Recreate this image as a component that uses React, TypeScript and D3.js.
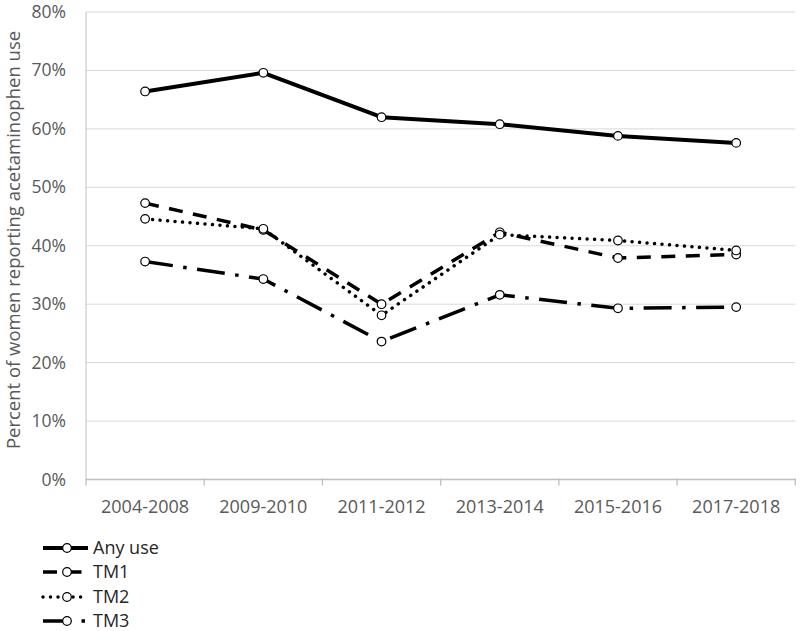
import React, { useEffect, useRef } from "react";
import * as d3 from "d3";

const categories = ["2004-2008", "2009-2010", "2011-2012", "2013-2014", "2015-2016", "2017-2018"];
const anyUse = [66.4, 69.6, 62.0, 60.8, 58.8, 57.6];
const tm1 = [47.3, 42.7, 30.0, 42.3, 37.9, 38.5];
const tm2 = [44.6, 42.9, 28.1, 41.9, 40.9, 39.2];
const tm3 = [37.3, 34.3, 23.6, 31.6, 29.3, 29.5];
const yTicks = [0, 10, 20, 30, 40, 50, 60, 70, 80];
const seriesNames = ["Any use", "TM1", "TM2", "TM3"];
const yTitle = "Percent of women reporting acetaminophen use";

const FONT = "'Open Sans', sans-serif";

export default function App() {
  const ref = useRef<SVGSVGElement>(null);

  useEffect(() => {
    const svg = d3.select(ref.current);
    svg.selectAll("*").remove();

    const x = d3.scaleBand<string>().domain(categories).range([86, 795.3]);
    const y = d3.scaleLinear().domain([0, 80]).range([479.5, 12]);

    const styles = [
      { data: anyUse, width: 4, dash: null as string | null, cap: "butt" },
      { data: tm1, width: 3.5, dash: "14 10.5", cap: "butt" },
      { data: tm2, width: 3.5, dash: "0.01 7.5", cap: "round" },
      { data: tm3, width: 3.5, dash: "28 10.5 3.5 10.5", cap: "butt" },
    ];

    // gridlines
    svg
      .append("g")
      .selectAll("line")
      .data(yTicks.filter((t) => t > 0))
      .join("line")
      .attr("x1", 86)
      .attr("x2", 795.3)
      .attr("y1", (d) => y(d))
      .attr("y2", (d) => y(d))
      .attr("stroke", "#d9d9d9")
      .attr("stroke-width", 1);

    // y axis line
    svg
      .append("line")
      .attr("x1", 86)
      .attr("x2", 86)
      .attr("y1", y(80))
      .attr("y2", y(0))
      .attr("stroke", "#bfbfbf")
      .attr("stroke-width", 1);

    // x axis
    svg
      .append("line")
      .attr("x1", 86)
      .attr("x2", 795.3)
      .attr("y1", y(0))
      .attr("y2", y(0))
      .attr("stroke", "#bfbfbf")
      .attr("stroke-width", 1.3);

    const bounds = categories.map((c) => x(c)!).concat([x(categories[categories.length - 1])! + x.bandwidth()]);
    svg
      .append("g")
      .selectAll("line")
      .data(bounds)
      .join("line")
      .attr("x1", (d) => d)
      .attr("x2", (d) => d)
      .attr("y1", y(0) - 1)
      .attr("y2", y(0) + 6)
      .attr("stroke", "#bfbfbf")
      .attr("stroke-width", 1.3);

    // y tick labels
    svg
      .append("g")
      .selectAll("text")
      .data(yTicks)
      .join("text")
      .attr("x", 66)
      .attr("y", (d) => y(d) + 6)
      .attr("text-anchor", "end")
      .attr("font-family", FONT)
      .attr("font-size", 17.5)
      .attr("fill", "#595959")
      .text((d) => `${d}%`);

    // x tick labels
    svg
      .append("g")
      .selectAll("text")
      .data(categories)
      .join("text")
      .attr("x", (d) => x(d)! + x.bandwidth() / 2)
      .attr("y", 513)
      .attr("text-anchor", "middle")
      .attr("font-family", FONT)
      .attr("font-size", 18)
      .attr("fill", "#595959")
      .text((d) => d);

    // y title
    svg
      .append("text")
      .attr("transform", `translate(19.5,240) rotate(-90)`)
      .attr("text-anchor", "middle")
      .attr("font-family", FONT)
      .attr("font-size", 18.5)
      .attr("fill", "#595959")
      .text(yTitle);

    const line = d3
      .line<number>()
      .x((_, i) => x(categories[i])! + x.bandwidth() / 2)
      .y((d) => y(d));

    styles.forEach((s) => {
      const g = svg.append("g");
      g.append("path")
        .attr("d", line(s.data))
        .attr("fill", "none")
        .attr("stroke", "#000")
        .attr("stroke-width", s.width)
        .attr("stroke-dasharray", s.dash)
        .attr("stroke-linecap", s.cap)
        .attr("stroke-linejoin", "round");
      g.selectAll("circle")
        .data(s.data)
        .join("circle")
        .attr("cx", (_, i) => x(categories[i])! + x.bandwidth() / 2)
        .attr("cy", (d) => y(d))
        .attr("r", 4.3)
        .attr("fill", "#fff")
        .attr("stroke", "#000")
        .attr("stroke-width", 1.2);
    });

    // legend
    const rowY = [548, 572, 597, 621];
    const leg = svg.append("g");
    styles.forEach((s, i) => {
      const ly = rowY[i];
      leg
        .append("line")
        .attr("x1", 43)
        .attr("x2", 88)
        .attr("y1", ly)
        .attr("y2", ly)
        .attr("stroke", "#000")
        .attr("stroke-width", s.width)
        .attr("stroke-dasharray", s.dash)
        .attr("stroke-linecap", s.cap);
      leg
        .append("circle")
        .attr("cx", 67)
        .attr("cy", ly)
        .attr("r", 4.3)
        .attr("fill", "#fff")
        .attr("stroke", "#000")
        .attr("stroke-width", 1.2);
      leg
        .append("text")
        .attr("x", 93)
        .attr("y", ly + 6)
        .attr("font-family", FONT)
        .attr("font-size", 18)
        .attr("fill", "#262626")
        .text(seriesNames[i]);
    });
  }, []);

  return (
    <svg
      ref={ref}
      width={800}
      height={631}
      style={{ position: "absolute", left: 0, top: 0, background: "#fff" }}
    />
  );
}
